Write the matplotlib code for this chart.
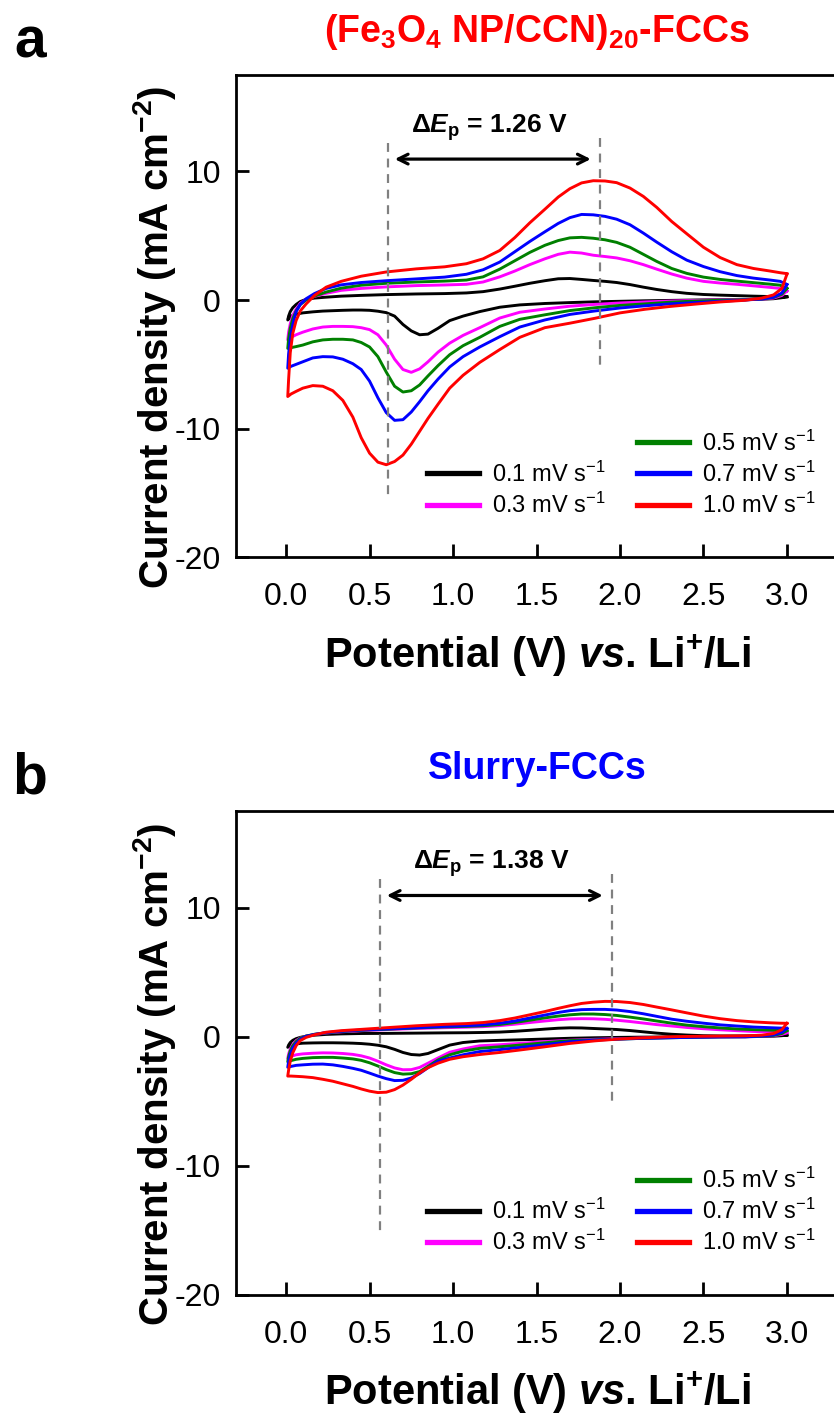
import matplotlib
matplotlib.use('Agg')
import matplotlib.pyplot as plt
from matplotlib.lines import Line2D

plt.rcParams['font.family'] = ['Liberation Sans', 'DejaVu Sans']
plt.rcParams['mathtext.fontset'] = 'custom'
plt.rcParams['mathtext.rm'] = 'Liberation Sans'
plt.rcParams['mathtext.it'] = 'Liberation Sans:italic:bold'
plt.rcParams['mathtext.bf'] = 'Liberation Sans:bold'
plt.rcParams['mathtext.default'] = 'regular'
plt.rcParams['axes.unicode_minus'] = False

# Potential grids (V vs Li+/Li): cathodic scan 3.0 -> 0.01, anodic scan 0.01 -> 3.0
volt_cath = [3.0, 2.97, 2.92, 2.85, 2.75, 2.6, 2.45, 2.3, 2.15, 2.0, 1.85, 1.7, 1.55,
             1.4, 1.28, 1.16, 1.06, 0.98, 0.91, 0.85, 0.8, 0.75, 0.7, 0.65, 0.6, 0.55,
             0.5, 0.45, 0.4, 0.34, 0.28, 0.22, 0.16, 0.1, 0.06, 0.03, 0.01]
volt_anod = [0.01, 0.015, 0.025, 0.04, 0.06, 0.085, 0.12, 0.17, 0.24, 0.33, 0.45, 0.6,
             0.78, 0.95, 1.08, 1.18, 1.28, 1.37, 1.46, 1.55, 1.63, 1.7, 1.77, 1.84, 1.91,
             1.98, 2.06, 2.14, 2.22, 2.31, 2.4, 2.5, 2.6, 2.7, 2.8, 2.9, 2.96, 3.0]

rates = ['0.1', '0.3', '0.5', '0.7', '1.0']
colors = ['black', '#ff00ff', 'green', 'blue', 'red']

# (Fe3O4 NP/CCN)20-FCCs current density (mA cm-2)
fe_cath_01 = [0.25, 0.18, 0.1, 0.06, 0.04, 0.03, 0.0, -0.03, -0.06, -0.1, -0.14, -0.2, -0.27,
              -0.38, -0.56, -0.9, -1.25, -1.6, -2.2, -2.65, -2.7, -2.4, -1.9, -1.25, -0.98, -0.87,
              -0.8, -0.78, -0.78, -0.8, -0.83, -0.86, -0.92, -1.0, -1.1, -1.25, -1.55]
fe_anod_01 = [-1.55, -1.25, -0.9, -0.6, -0.35, -0.12, 0.05, 0.15, 0.22, 0.3, 0.36, 0.42,
              0.47, 0.5, 0.55, 0.65, 0.85, 1.07, 1.3, 1.5, 1.65, 1.67, 1.6, 1.52, 1.45,
              1.36, 1.2, 1.0, 0.82, 0.65, 0.52, 0.43, 0.38, 0.34, 0.3, 0.27, 0.25, 0.25]
fe_cath_03 = [0.7, 0.35, 0.15, 0.07, 0.03, 0.01, -0.03, -0.08, -0.15, -0.23, -0.34, -0.48, -0.7,
              -0.95, -1.4, -2.15, -2.75, -3.35, -4.05, -4.8, -5.35, -5.62, -5.4, -4.6, -3.5, -2.7,
              -2.3, -2.15, -2.07, -2.05, -2.05, -2.1, -2.25, -2.5, -2.7, -2.9, -3.1]
fe_anod_03 = [-3.1, -2.5, -1.85, -1.2, -0.7, -0.25, 0.05, 0.28, 0.52, 0.75, 0.9, 1.02,
              1.12, 1.17, 1.22, 1.4, 1.8, 2.25, 2.75, 3.2, 3.55, 3.72, 3.65, 3.48, 3.38,
              3.27, 3.05, 2.75, 2.4, 2.02, 1.7, 1.45, 1.32, 1.22, 1.1, 0.98, 0.9, 0.7]
fe_cath_05 = [0.9, 0.45, 0.2, 0.08, 0.02, -0.02, -0.08, -0.17, -0.3, -0.42, -0.6, -0.82, -1.15,
              -1.5, -2.05, -2.9, -3.55, -4.25, -5.1, -5.9, -6.6, -7.05, -7.15, -6.7, -5.6, -4.4,
              -3.65, -3.3, -3.1, -3.05, -3.05, -3.1, -3.25, -3.5, -3.62, -3.7, -3.76]
fe_anod_05 = [-3.76, -3.0, -2.2, -1.45, -0.85, -0.35, 0.0, 0.3, 0.62, 0.92, 1.15, 1.3,
              1.4, 1.47, 1.55, 1.8, 2.4, 3.05, 3.7, 4.25, 4.62, 4.83, 4.87, 4.8, 4.68,
              4.48, 4.1, 3.55, 3.0, 2.45, 2.07, 1.78, 1.6, 1.47, 1.35, 1.23, 1.15, 0.9]
fe_cath_07 = [1.2, 0.55, 0.22, 0.08, 0.0, -0.1, -0.2, -0.3, -0.45, -0.62, -0.85, -1.12, -1.55,
              -2.1, -2.85, -3.65, -4.4, -5.2, -6.15, -7.05, -7.9, -8.7, -9.3, -9.35, -8.75, -7.6,
              -6.3, -5.4, -4.95, -4.6, -4.42, -4.4, -4.5, -4.8, -5.0, -5.15, -5.3]
fe_anod_07 = [-5.3, -4.2, -3.0, -1.9, -0.9, -0.35, 0.1, 0.5, 0.9, 1.18, 1.36, 1.5,
              1.64, 1.78, 2.0, 2.35, 2.95, 3.75, 4.55, 5.3, 5.95, 6.4, 6.65, 6.62, 6.5,
              6.28, 5.85, 5.2, 4.5, 3.75, 3.1, 2.6, 2.2, 1.9, 1.7, 1.55, 1.45, 1.2]
fe_cath_10 = [2.0, 0.9, 0.4, 0.15, -0.02, -0.15, -0.32, -0.5, -0.72, -1.0, -1.42, -1.8, -2.15,
              -2.9, -3.85, -4.85, -5.85, -6.85, -8.1, -9.2, -10.2, -11.2, -12.05, -12.55, -12.8, -12.6,
              -11.9, -10.7, -9.1, -7.8, -7.05, -6.7, -6.65, -6.85, -7.1, -7.3, -7.5]
fe_anod_10 = [-7.5, -6.2, -4.1, -2.6, -1.6, -0.85, -0.3, 0.35, 1.0, 1.45, 1.85, 2.18,
              2.42, 2.58, 2.82, 3.2, 3.85, 4.85, 6.0, 7.05, 8.0, 8.65, 9.1, 9.27, 9.25,
              9.12, 8.7, 8.05, 7.2, 6.1, 5.15, 4.1, 3.3, 2.75, 2.45, 2.25, 2.12, 2.05]

# Slurry-FCCs current density (mA cm-2)
sl_cath_01 = [0.13, 0.08, 0.04, 0.02, 0.0, 0.0, -0.01, -0.02, -0.03, -0.05, -0.08, -0.12, -0.18,
              -0.24, -0.28, -0.33, -0.45, -0.65, -1.0, -1.3, -1.42, -1.38, -1.22, -0.98, -0.78, -0.66,
              -0.58, -0.53, -0.5, -0.48, -0.47, -0.47, -0.48, -0.5, -0.55, -0.65, -0.82]
sl_anod_01 = [-0.82, -0.65, -0.45, -0.28, -0.15, -0.05, 0.04, 0.12, 0.18, 0.22, 0.25, 0.26,
              0.28, 0.3, 0.31, 0.33, 0.36, 0.42, 0.5, 0.59, 0.66, 0.69, 0.68, 0.64, 0.6,
              0.56, 0.48, 0.38, 0.28, 0.19, 0.13, 0.08, 0.06, 0.06, 0.07, 0.09, 0.11, 0.13]
sl_cath_03 = [0.31, 0.18, 0.08, 0.03, 0.0, -0.01, -0.03, -0.06, -0.1, -0.15, -0.2, -0.27, -0.38,
              -0.52, -0.62, -0.7, -0.95, -1.2, -1.65, -2.05, -2.38, -2.55, -2.56, -2.42, -2.18, -1.9,
              -1.65, -1.48, -1.37, -1.3, -1.26, -1.25, -1.28, -1.33, -1.4, -1.52, -1.68]
sl_anod_03 = [-1.68, -1.35, -0.95, -0.6, -0.3, -0.1, 0.05, 0.17, 0.29, 0.38, 0.47, 0.55,
              0.64, 0.7, 0.74, 0.78, 0.86, 0.97, 1.1, 1.22, 1.32, 1.38, 1.4, 1.39, 1.35,
              1.28, 1.18, 1.06, 0.94, 0.83, 0.72, 0.62, 0.54, 0.47, 0.41, 0.36, 0.33, 0.31]
sl_cath_05 = [0.47, 0.25, 0.1, 0.04, 0.0, -0.01, -0.04, -0.08, -0.12, -0.18, -0.24, -0.3, -0.47,
              -0.65, -0.78, -0.9, -1.12, -1.4, -1.8, -2.3, -2.7, -2.87, -2.9, -2.78, -2.55, -2.27,
              -2.02, -1.83, -1.72, -1.65, -1.6, -1.6, -1.62, -1.68, -1.75, -1.85, -1.94]
sl_anod_05 = [-1.94, -1.55, -1.1, -0.7, -0.38, -0.12, 0.05, 0.19, 0.3, 0.4, 0.5, 0.58,
              0.68, 0.76, 0.8, 0.85, 0.95, 1.1, 1.28, 1.46, 1.6, 1.7, 1.76, 1.76, 1.72,
              1.65, 1.52, 1.38, 1.22, 1.05, 0.9, 0.78, 0.68, 0.6, 0.55, 0.51, 0.49, 0.47]
sl_cath_07 = [0.65, 0.35, 0.14, 0.05, 0.0, -0.01, -0.04, -0.08, -0.12, -0.18, -0.26, -0.39, -0.62,
              -0.83, -1.0, -1.15, -1.4, -1.65, -1.9, -2.4, -2.85, -3.2, -3.38, -3.4, -3.25, -3.05,
              -2.82, -2.6, -2.45, -2.3, -2.18, -2.12, -2.13, -2.18, -2.22, -2.3, -2.37]
sl_anod_07 = [-2.37, -1.9, -1.35, -0.88, -0.5, -0.2, 0.03, 0.18, 0.32, 0.42, 0.52, 0.6,
              0.7, 0.8, 0.85, 0.92, 1.05, 1.22, 1.45, 1.68, 1.88, 2.02, 2.1, 2.12, 2.12,
              2.07, 1.95, 1.78, 1.58, 1.36, 1.2, 1.05, 0.92, 0.83, 0.75, 0.7, 0.67, 0.65]
sl_cath_10 = [1.04, 0.55, 0.25, 0.12, 0.07, 0.05, 0.03, 0.0, -0.08, -0.17, -0.32, -0.52, -0.78,
              -1.03, -1.22, -1.38, -1.55, -1.75, -2.05, -2.4, -2.8, -3.3, -3.75, -4.1, -4.3, -4.33,
              -4.22, -4.05, -3.85, -3.65, -3.45, -3.3, -3.17, -3.1, -3.07, -3.05, -3.05]
sl_anod_10 = [-3.05, -2.6, -1.9, -1.25, -0.7, -0.3, -0.05, 0.15, 0.35, 0.47, 0.57, 0.7,
              0.85, 0.96, 1.02, 1.1, 1.25, 1.45, 1.7, 1.95, 2.2, 2.4, 2.58, 2.68, 2.74,
              2.73, 2.65, 2.5, 2.3, 2.08, 1.85, 1.6, 1.4, 1.25, 1.15, 1.08, 1.05, 1.04]

fe_cath = [fe_cath_01, fe_cath_03, fe_cath_05, fe_cath_07, fe_cath_10]
fe_anod = [fe_anod_01, fe_anod_03, fe_anod_05, fe_anod_07, fe_anod_10]
sl_cath = [sl_cath_01, sl_cath_03, sl_cath_05, sl_cath_07, sl_cath_10]
sl_anod = [sl_anod_01, sl_anod_03, sl_anod_05, sl_anod_07, sl_anod_10]

# Peak separation markers: (reduction peak, oxidation peak) potentials
fe_peaks = [0.611, 1.88]
sl_peaks = [0.563, 1.952]
fe_dE = '1.26'
sl_dE = '1.38'

W, H = 834, 1416


def fx(px):
    return px / W


def fy(py):
    return 1 - py / H


fig = plt.figure(figsize=(W / 100, H / 100), dpi=100)

panels = [
    dict(letter='a', title='(Fe$_{3}$O$_{4}$ NP/CCN)$_{20}$-FCCs', tcolor='red',
         cath=fe_cath, anod=fe_anod, peaks=fe_peaks, dE=fe_dE, off=0,
         rect=[fx(236), fy(557.4), fx(601), 482.6 / H]),
    dict(letter='b', title='Slurry-FCCs', tcolor='blue',
         cath=sl_cath, anod=sl_anod, peaks=sl_peaks, dE=sl_dE, off=737,
         rect=[fx(236), fy(1294.7), fx(601), 483.7 / H]),
]

for p in panels:
    ax = fig.add_axes(p['rect'])
    for cath, anod, c in zip(p['cath'], p['anod'], colors):
        ax.plot(volt_cath + volt_anod, cath + anod, color=c, lw=2.1,
                solid_joinstyle='round')

    ax.set_xlim(-0.3, 3.3)
    ax.set_ylim(-20, 17.5)
    ax.set_xticks([0, 0.5, 1.0, 1.5, 2.0, 2.5, 3.0])
    ax.set_xticklabels(['0.0', '0.5', '1.0', '1.5', '2.0', '2.5', '3.0'])
    ax.set_yticks([-20, -10, 0, 10])
    ax.set_yticklabels(['-20', '-10', '0', '10'])
    ax.tick_params(direction='in', length=9.5, width=2, labelsize=23)
    ax.tick_params(axis='x', pad=18)
    ax.tick_params(axis='y', pad=11)
    for s in ax.spines.values():
        s.set_linewidth(2)

    # peak separation guides
    x1, x2 = p['peaks']
    ax.plot([x1, x1], [12.2, -15.15], color='#808080', lw=1.6, ls=(0, (4, 3)))
    ax.plot([x2, x2], [12.6, -5.1], color='#808080', lw=1.6, ls=(0, (4, 3)))
    ax.annotate('', xy=(x1 + 0.04, 10.95), xytext=(x2 - 0.055, 10.95),
                arrowprops=dict(arrowstyle='<->,head_length=0.7,head_width=0.35',
                                lw=2.3, color='black', shrinkA=0, shrinkB=0))
    ax.text((x1 + x2) / 2 - 0.03, 13.0, r'$\Delta$$\mathit{E}_{p}$ = ' + p['dE'] + ' V',
            ha='center', va='baseline', fontsize=19, weight='bold')

    # legend: two columns, left column bottom-aligned
    hs = [Line2D([], [], color=c, lw=3.8) for c in colors]
    labs = [r + ' mV s$^{-1}$' for r in rates]
    leg_kw = dict(frameon=False, fontsize=17, handlelength=2.2, handletextpad=0.55,
                  labelspacing=0.25, borderpad=0, borderaxespad=0, loc='lower left')
    leg1 = ax.legend(hs[:2], labs[:2], bbox_to_anchor=(0.318, 0.082), **leg_kw)
    ax.add_artist(leg1)
    ax.legend(hs[2:], labs[2:], bbox_to_anchor=(0.667, 0.082), **leg_kw)

    off = p['off']
    fig.text(fx(30), fy(57 + off), p['letter'], ha='center', va='baseline',
             fontsize=41, weight='bold')
    fig.text(fx(537), fy(42 + off), p['title'], ha='center', va='baseline',
             fontsize=27, weight='bold', color=p['tcolor'])
    fig.text(fx(537), fy(668 + off), r'Potential (V) $\mathit{vs}$. Li$^{+}$/Li',
             ha='center', va='baseline', fontsize=30, weight='bold')
    fig.text(fx(155), fy(337 + off), 'Current density (mA cm$^{-2}$)', rotation=90,
             ha='center', va='center', fontsize=29, weight='bold')

fig.savefig('out.png', dpi=100)
